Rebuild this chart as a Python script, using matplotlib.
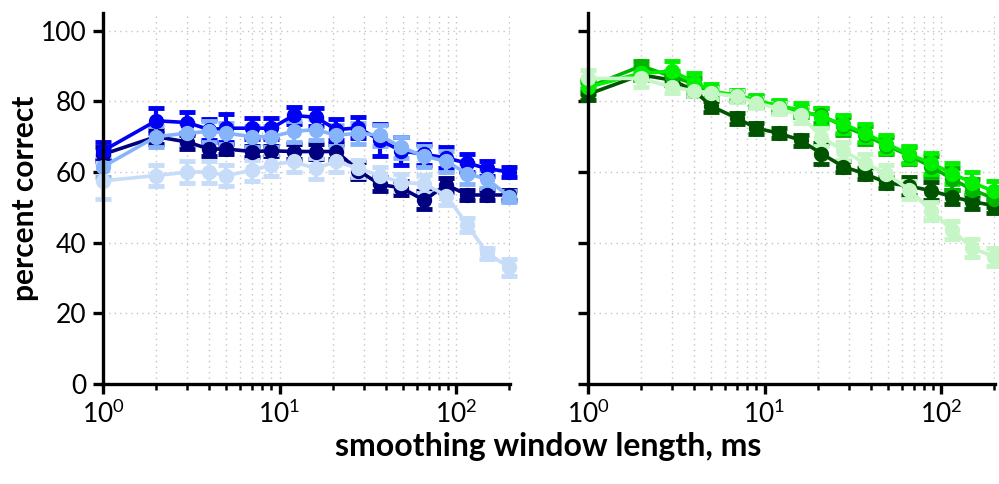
import matplotlib
matplotlib.use('Agg')
import matplotlib.pyplot as plt
from matplotlib.ticker import LogLocator, NullFormatter, FixedLocator

plt.rcParams['font.family'] = ['Lato', 'DejaVu Sans']
plt.rcParams['mathtext.fontset'] = 'custom'
plt.rcParams['mathtext.rm'] = 'Lato'

# smoothing window lengths (ms)
window_ms = [1, 2, 3, 4, 5, 7, 9, 12, 16, 21, 28, 37, 49, 66, 88, 116, 150, 200]

# left panel (blue series)
navy_pc = [65, 70, 68.5, 66.5, 66.5, 65.8, 66, 65.8, 65.8, 65.8, 60.4, 56.5, 55.5, 52, 56.4, 53.5, 53.5, 53.5]
navy_err = [2, 2, 2, 2, 1.5, 1.5, 1.5, 2, 2, 2, 2.5, 2, 2, 2.5, 2, 1.5, 1.5, 1.5]
blue_pc = [66, 74.5, 74, 72, 72.4, 72.4, 72.4, 76, 75.5, 72, 72.5, 69, 66, 65, 64, 62.5, 61, 60]
blue_err = [2.5, 3.5, 3, 3, 4, 3, 3, 2.5, 2.5, 3, 3, 4.5, 4, 3, 3, 2.5, 2, 1.5]
mid_pc = [61.5, 70, 71, 71.5, 71, 70, 70, 71.5, 72, 70.4, 71, 70.4, 67, 64.5, 63, 59.5, 58, 53]
mid_err = [3, 3, 3, 3, 3, 3, 3, 3, 3, 3, 3, 3, 3, 3, 3, 3, 2.5, 1.5]
light_pc = [57.5, 59, 60, 60, 59, 60.5, 62, 63, 61, 63, 61, 59, 57, 56.7, 53.3, 45, 37, 33]
light_err = [5, 3, 3, 3, 3, 3, 3, 3, 3, 3, 2.5, 2.5, 2.5, 2.5, 2.5, 2, 1.5, 2.5]

# right panel (green series)
dkgreen_pc = [82, 87.5, 86, 83, 78.6, 75.2, 72.4, 71, 69, 65.2, 61.5, 59.5, 57, 56, 54.7, 53, 51.6, 50.5]
dkgreen_err = [1.5, 1.5, 1.5, 1.5, 1.5, 1.5, 1.5, 1.5, 1.5, 3, 1.5, 1.5, 1.5, 2.5, 2.5, 2, 2, 2]
mdgreen_pc = [84, 90, 87, 85, 82.5, 81.5, 80, 78.5, 77, 76, 73, 70.5, 67.5, 64.7, 61.5, 58, 55, 52.5]
mdgreen_err = [1.5, 1.5, 1.5, 1.5, 1.5, 1.5, 1.5, 1.5, 1.5, 2, 2.5, 2.5, 2.5, 2.5, 3, 3, 3, 2.5]
brgreen_pc = [84, 88, 88.5, 85.5, 82.8, 81.8, 80.2, 78.8, 77.5, 75.5, 73.5, 71, 68, 65, 62.5, 59.5, 57, 54.5]
brgreen_err = [2, 2, 3, 2.5, 2, 1.5, 1.5, 1.5, 2, 2.5, 2.5, 2.5, 2.5, 2.5, 3, 3, 3, 3]
plgreen_pc = [86.5, 86.5, 84, 83, 82.3, 81.4, 79.5, 78, 76, 70, 66, 62.5, 59.5, 55, 49, 43.5, 38.5, 36]
plgreen_err = [2.5, 2.5, 1.5, 1.5, 1.5, 1.5, 1.5, 1.5, 2, 2.5, 2.5, 2.5, 2.5, 2.5, 2.5, 2.5, 2.5, 2.5]

left_series = [
    (navy_pc, navy_err, '#000080'),
    (blue_pc, blue_err, '#0000f5'),
    (mid_pc, mid_err, '#86b4fb'),
    (light_pc, light_err, '#c6dcf8'),
]
right_series = [
    (dkgreen_pc, dkgreen_err, '#005400'),
    (mdgreen_pc, mdgreen_err, '#00b400'),
    (brgreen_pc, brgreen_err, '#00f000'),
    (plgreen_pc, plgreen_err, '#c6f6c6'),
]


def style_axes(ax, show_ylabels):
    ax.set_xscale('log')
    ax.set_xlim(1, 202)
    ax.set_ylim(0, 105)
    ax.set_yticks([0, 20, 40, 60, 80, 100])
    if not show_ylabels:
        ax.set_yticklabels([])
    ax.xaxis.set_major_locator(FixedLocator([1, 10, 100]))
    ax.xaxis.set_minor_locator(LogLocator(base=10, subs=range(2, 10)))
    ax.xaxis.set_minor_formatter(NullFormatter())
    for s in ['top', 'right']:
        ax.spines[s].set_visible(False)
    for s in ['left', 'bottom']:
        ax.spines[s].set_linewidth(2.4)
    ax.tick_params(axis='both', which='major', direction='out', length=7, width=2.4,
                   labelsize=19, pad=5)
    ax.tick_params(axis='x', which='minor', direction='out', length=4, width=1.8)
    ax.grid(True, which='major', axis='both', linestyle=(0, (1, 3)), color='#c4c4c4', linewidth=1)
    ax.grid(True, which='minor', axis='x', linestyle=(0, (1, 3)), color='#c4c4c4', linewidth=1)
    ax.set_axisbelow(True)


def draw_series(ax, series):
    for vals, errs, col in series:
        ax.errorbar(window_ms, vals, yerr=errs, color=col, ecolor=col, marker='o',
                    markersize=10, linewidth=2.6, elinewidth=3, capsize=6, capthick=3.5,
                    clip_on=False)


fig = plt.figure(figsize=(9.99, 4.84), dpi=100)
ax1 = fig.add_axes([0.1031, 0.2066, 0.4074, 0.7665])
ax2 = fig.add_axes([0.5886, 0.2066, 0.4074, 0.7665])

style_axes(ax1, True)
style_axes(ax2, False)
draw_series(ax1, left_series)
draw_series(ax2, right_series)

ax1.set_ylabel('percent correct', fontsize=21.5, fontweight='bold', labelpad=1)
fig.text(0.549, 0.078, 'smoothing window length, ms', fontsize=23, fontweight='bold',
         ha='center', va='center')

fig.savefig('out.png', dpi=100)
